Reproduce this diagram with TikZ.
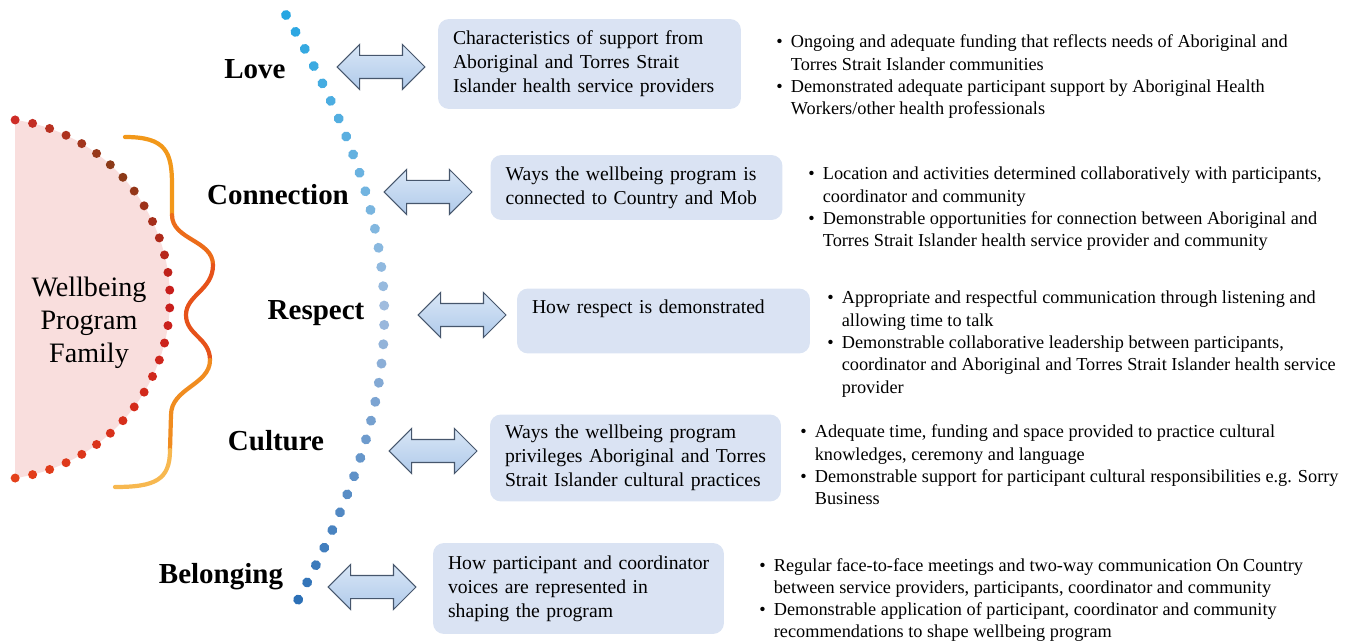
\documentclass[tikz,border=0pt]{standalone}
\usepackage{fontspec}
\setmainfont{Liberation Serif}
\usetikzlibrary{calc,shapes.arrows,decorations.markings}

\definecolor{pinkfill}{RGB}{249,222,221}
\definecolor{toprust}{RGB}{206,44,38}
\definecolor{darkrust}{RGB}{140,58,24}
\definecolor{midred}{RGB}{200,30,28}
\definecolor{lowred}{RGB}{228,64,26}
\definecolor{sky}{RGB}{38,166,226}
\definecolor{palesky}{RGB}{160,188,222}
\definecolor{deepsky}{RGB}{44,112,182}
\definecolor{boxfill}{RGB}{218,227,243}
\definecolor{arrowtop}{RGB}{216,230,246}
\definecolor{arrowbot}{RGB}{176,202,234}
\definecolor{arrowline}{RGB}{70,86,108}
\definecolor{braceA}{RGB}{242,152,26}
\definecolor{braceB}{RGB}{236,108,26}
\definecolor{braceC}{RGB}{230,82,26}
\definecolor{braceD}{RGB}{240,140,32}
\definecolor{braceE}{RGB}{247,184,80}

% fixed line breaks, no hyphenation
\newcommand\boxlines[1]{\begin{tabular}{@{}l@{}}#1\end{tabular}}
% bullet list with fixed line breaks
\newcommand\pointlist[1]{\begin{tabular}[t]{@{}p{0.29cm}@{}l@{}}#1\end{tabular}}

\begin{document}
\begin{tikzpicture}[x=0.02cm,y=-0.02cm,
  theme/.style={font=\fontsize{16.5}{19}\selectfont\bfseries},
  linkarrow/.style={double arrow, draw=arrowline, line width=0.6pt,
    top color=arrowtop, bottom color=arrowbot, minimum height=1.76cm,
    minimum width=0.88cm, double arrow head extend=0.22cm,
    inner xsep=0pt, inner ysep=0.22cm},
  infobox/.style={rounded corners=0.22cm, fill=boxfill, align=left,
    inner xsep=0.3cm, inner ysep=0pt, font=\fontsize{11.2}{13.7}\selectfont},
  points/.style={anchor=base west, inner sep=0pt,
    font=\fontsize{10.4}{12.7}\selectfont}]
\useasboundingbox (0,0) rectangle (1361,641);

% family circle
\coordinate (hub) at (-11,299);
\begin{scope}
  \clip (15,0) rectangle (400,641);
  \fill[pinkfill] (hub) circle (3.62cm);
\end{scope}
\foreach \k in {0,...,29}{
  \pgfmathsetmacro\ang{81.7-5.634*\k}
  \ifnum\k<7
    \pgfmathtruncatemacro\pc{100*\k/6}\colorlet{dotc}{darkrust!\pc!toprust}
  \else\ifnum\k<15
    \pgfmathtruncatemacro\pc{100*(\k-7)/7}\colorlet{dotc}{midred!\pc!darkrust}
  \else
    \pgfmathtruncatemacro\pc{100*(\k-15)/14}\colorlet{dotc}{lowred!\pc!midred}
  \fi\fi
  \fill[dotc] ($(hub)+(\ang:3.62cm)$) circle (0.09cm);
}
\node[font=\fontsize{16}{18.8}\selectfont, align=center] (family) at (89,323)
  {Wellbeing\\Program\\Family};

% brace
\begin{scope}[line width=2.4pt, line cap=round]
  \draw[braceA] (125,137) .. controls (166,137) and (172,152) .. (172,185) -- (172,215);
  \draw[braceB] (172,215) .. controls (172,240) and (213,240) .. (213,265);
  \draw[braceC] (213,265) .. controls (213,290) and (186,295) .. (186,315)
    .. controls (186,335) and (210,338) .. (210,360);
  \draw[braceD] (210,360) .. controls (210,385) and (171,388) .. (171,415) -- (170,450);
  \draw[braceE] (170,450) .. controls (170,480) and (155,487) .. (115,487);
\end{scope}

% dotted path
\path[decorate, decoration={markings,
  mark=between positions 0 and 1 step 0.0312 with {
    \pgfmathtruncatemacro\sq{\pgfkeysvalueof{/pgf/decoration/mark info/sequence number}}
    \ifnum\sq<17
      \pgfmathtruncatemacro\pc{100*(\sq-1)/16}\colorlet{dotc}{palesky!\pc!sky}
    \else
      \pgfmathtruncatemacro\pc{100*(\sq-17)/16}\colorlet{dotc}{deepsky!\pc!palesky}
    \fi
    \fill[dotc] (0,0) circle (0.1cm);}}]
  (286,15) .. controls (415,240) and (415,380) .. (298,600);

% themes
\node[theme] (love) at (255,69) {Love};
\node[theme] (connection) at (278,195) {Connection};
\node[theme] (respect) at (316,313) {Respect};
\node[theme] (culture) at (276,441) {Culture};
\node[theme] (belonging) at (221,577) {Belonging};

\node[linkarrow] (arrlove) at (381,67) {};
\node[linkarrow] (arrconn) at (428,192) {};
\node[linkarrow] (arrresp) at (462,315) {};
\node[linkarrow] (arrcult) at (433,451) {};
\node[linkarrow] (arrbelong) at (372,587) {};

% boxes
\node[infobox, text width=5.46cm, minimum height=1.8cm] (boxlove) at (589.5,64)
  {\boxlines{Characteristics of support from\\Aboriginal and Torres Strait\\Islander health service providers}};
\node[infobox, text width=5.24cm, minimum height=1.3cm] (boxconn) at (636.5,187.5)
  {\boxlines{Ways the wellbeing program is\\connected to Country and Mob}};
\node[infobox, text width=5.26cm, minimum height=1.3cm] (boxresp) at (663.5,321)
  {\boxlines{How respect is demonstrated\\\mbox{}}};
\node[infobox, text width=5.22cm, minimum height=1.74cm] (boxcult) at (635.5,458)
  {\boxlines{Ways the wellbeing program\\privileges Aboriginal and Torres\\Strait Islander cultural practices}};
\node[infobox, text width=5.22cm, minimum height=1.82cm] (boxbelong) at (578.5,588.5)
  {\boxlines{How participant and coordinator\\voices are represented in\\shaping the program}};

% bullet points
\node[points] (ptlove) at (776,48) {\pointlist{
  \textbullet & Ongoing and adequate funding that reflects needs of Aboriginal and\\
  & Torres Strait Islander communities\\
  \textbullet & Demonstrated adequate participant support by Aboriginal Health\\
  & Workers/other health professionals}};
\node[points] (ptconn) at (808,180) {\pointlist{
  \textbullet & Location and activities determined collaboratively with participants,\\
  & coordinator and community\\
  \textbullet & Demonstrable opportunities for connection between Aboriginal and\\
  & Torres Strait Islander health service provider and community}};
\node[points] (ptresp) at (827,304) {\pointlist{
  \textbullet & Appropriate and respectful communication through listening and\\
  & allowing time to talk\\
  \textbullet & Demonstrable collaborative leadership between participants,\\
  & coordinator and Aboriginal and Torres Strait Islander health service\\
  & provider}};
\node[points] (ptcult) at (800,438) {\pointlist{
  \textbullet & Adequate time, funding and space provided to practice cultural\\
  & knowledges, ceremony and language\\
  \textbullet & Demonstrable support for participant cultural responsibilities e.g. Sorry\\
  & Business}};
\node[points] (ptbelong) at (759,571) {\pointlist{
  \textbullet & Regular face-to-face meetings and two-way communication On Country\\
  & between service providers, participants, coordinator and community\\
  \textbullet & Demonstrable application of participant, coordinator and community\\
  & recommendations to shape wellbeing program}};
\end{tikzpicture}
\end{document}
